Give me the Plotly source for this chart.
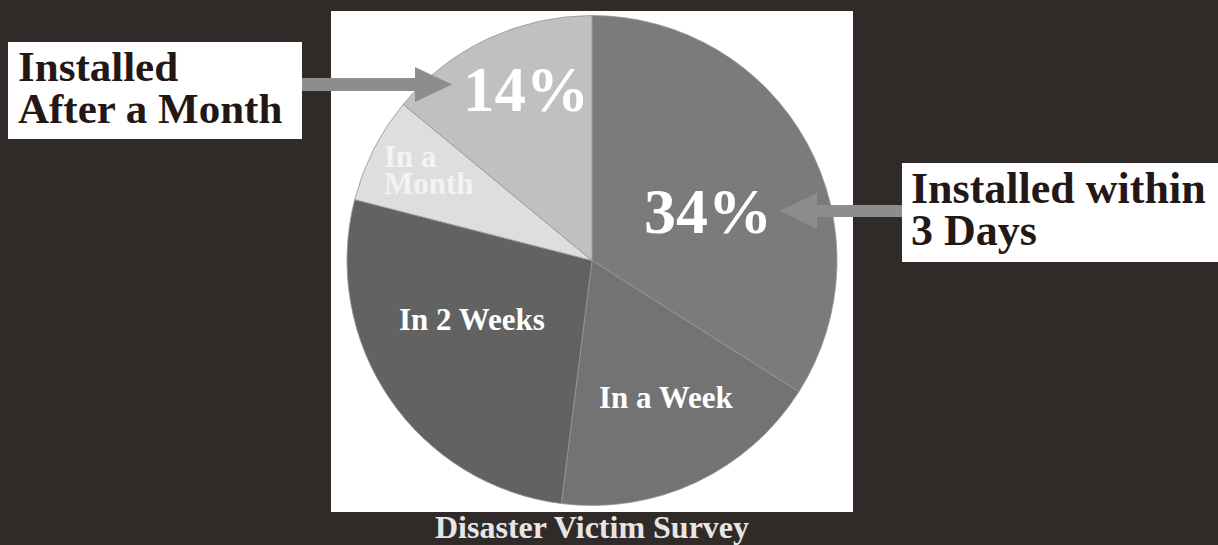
import plotly.graph_objects as go

# Survey data: how long it took before the equipment was installed
categories = ["Within 3 Days", "In a Week", "In 2 Weeks", "In a Month", "After a Month"]
shares = [34, 18, 27, 7, 14]
slice_colors = ["#7b7b7b", "#737373", "#626262", "#dedede", "#c0c0c0"]

title_text = "Disaster Victim Survey"
callout_left = ["Installed", "After a Month"]
callout_right = ["Installed within", "3 Days"]

W, H = 1218, 545
BG = "#302b29"
INK = "#231815"
ARROW = "#8d8d8d"
SERIF = "Liberation Serif"


def px(x):
    return x / W


def py(y):
    return 1 - y / H


cx, cy, r = 592, 260.5, 245

fig = go.Figure()
fig.add_trace(go.Pie(
    labels=categories,
    values=shares,
    sort=False,
    direction="clockwise",
    rotation=0,
    marker=dict(colors=slice_colors, line=dict(color="#969696", width=0.8)),
    textinfo="none",
    hoverinfo="label+percent",
    showlegend=False,
    domain=dict(x=[px(cx - r), px(cx + r)], y=[py(cy + r), py(cy - r)]),
))

shapes = []
# white panel behind the pie
shapes.append(dict(type="rect", xref="paper", yref="paper", layer="below",
                   x0=px(331), x1=px(853), y0=py(512), y1=py(11),
                   fillcolor="white", line=dict(width=0)))
# callout boxes
shapes.append(dict(type="rect", xref="paper", yref="paper", layer="below",
                   x0=px(8), x1=px(302), y0=py(139), y1=py(42),
                   fillcolor="white", line=dict(width=0)))
shapes.append(dict(type="rect", xref="paper", yref="paper", layer="below",
                   x0=px(902), x1=px(1218), y0=py(262), y1=py(163),
                   fillcolor="white", line=dict(width=0)))


def block_arrow(x_start, x_base, x_tip, yc, shaft_h, head_h):
    pts = [
        (x_start, yc - shaft_h / 2), (x_base, yc - shaft_h / 2),
        (x_base, yc - head_h / 2), (x_tip, yc),
        (x_base, yc + head_h / 2), (x_base, yc + shaft_h / 2),
        (x_start, yc + shaft_h / 2),
    ]
    d = "M " + " L ".join(f"{px(x):.5f},{py(y):.5f}" for x, y in pts) + " Z"
    return dict(type="path", path=d, xref="paper", yref="paper",
                fillcolor=ARROW, line=dict(width=0), layer="above")


shapes.append(block_arrow(302, 415, 452, 84.5, 13, 35))
shapes.append(block_arrow(902, 817, 780, 211, 12, 36))

annotations = []


def label(text, x, y, size, color, anchor="center"):
    annotations.append(dict(
        text=text, x=px(x), y=py(y), xref="paper", yref="paper",
        xanchor=anchor, yanchor="middle", showarrow=False,
        font=dict(family=SERIF, size=size, color=color, weight="bold"),
    ))


# percentage labels for the two highlighted slices
label(f"{shares[4]}%", 526, 89.5, 63, "white")
label(f"{shares[0]}%", 708, 211.5, 64, "white")

# slice names
label("In 2 Weeks", 471.5, 319, 31, "white")
label("In a Week", 666, 397, 31, "white")
label("In a", 382, 156, 31, "#f3f3f3", anchor="left")
label("Month", 382, 183, 31, "#f3f3f3", anchor="left")

# callout texts
label(callout_left[0], 16, 66.5, 43, INK, anchor="left")
label(callout_left[1], 16, 108.5, 43, INK, anchor="left")
label(callout_right[0], 909, 188.5, 44, INK, anchor="left")
label(callout_right[1], 909, 230.5, 44, INK, anchor="left")

# title under the panel
label(title_text, 591.5, 526.5, 32, "#e6e6e6")

fig.update_layout(
    width=W, height=H,
    margin=dict(l=0, r=0, t=0, b=0),
    paper_bgcolor=BG, plot_bgcolor=BG,
    shapes=shapes, annotations=annotations,
)

fig.write_html("out.html")
